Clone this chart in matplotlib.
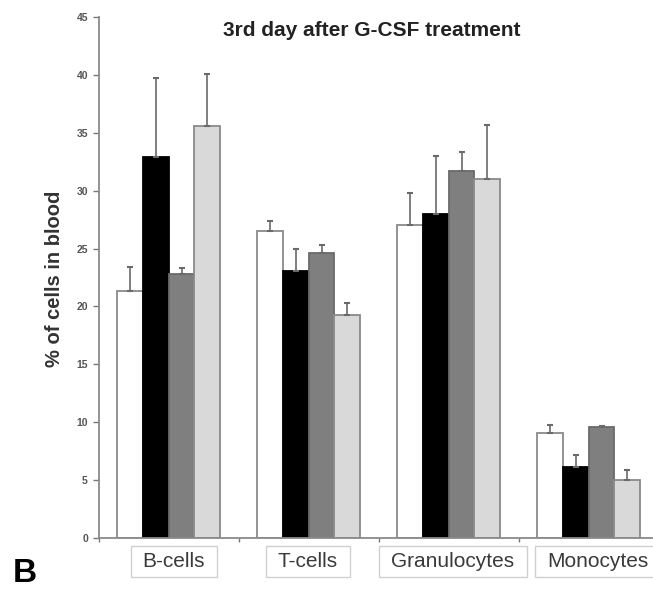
import matplotlib
matplotlib.use("Agg")
import matplotlib.pyplot as plt
import matplotlib.transforms as mtransforms
from matplotlib.patches import Rectangle
import numpy as np

plt.rcParams['font.family'] = ['Liberation Sans', 'DejaVu Sans']

categories = ["B-cells", "T-cells", "Granulocytes", "Monocytes"]
white_vals = [21.3, 26.5, 27.0, 9.05]
white_err = [2.1, 0.9, 2.8, 0.7]
black_vals = [32.9, 23.1, 27.95, 6.1]
black_err = [6.8, 1.85, 5.05, 1.05]
dgray_vals = [22.8, 24.6, 31.7, 9.56]
dgray_err = [0.5, 0.7, 1.6, 0.15]
lgray_vals = [35.6, 19.3, 31.05, 4.98]
lgray_err = [4.5, 1.0, 4.65, 0.9]
yticks = [0, 5, 10, 15, 20, 25, 30, 35, 40, 45]

series = [
    (white_vals, white_err, "#ffffff", "#8a8a8a"),
    (black_vals, black_err, "#000000", "#000000"),
    (dgray_vals, dgray_err, "#7f7f7f", "#6a6a6a"),
    (lgray_vals, lgray_err, "#d9d9d9", "#8a8a8a"),
]

W, H = 653, 590
fig = plt.figure(figsize=(W / 100, H / 100), dpi=100)
ax = fig.add_axes([99 / W, 52 / H, 560 / W, 521 / H])

x = np.arange(len(categories))
bw = 0.184
start = 0.13
for j, (vals, errs, fc, ec) in enumerate(series):
    pos = x + start + bw * (j + 0.5)
    ax.bar(pos, vals, width=bw, color=fc, edgecolor=ec, linewidth=1.3, zorder=2)
    ax.errorbar(pos, vals, yerr=[np.zeros(len(vals)), errs], fmt='none',
                ecolor="#6a6a6a", elinewidth=1.2, capsize=2.5, capthick=1.5, zorder=3)

ax.set_xlim(0, 4)
ax.set_ylim(0, 45)
ax.set_yticks(yticks)
ax.set_yticklabels([str(t) for t in yticks], fontsize=7.5, color="#555555", fontweight='bold')
ax.set_xticks(np.arange(0, 5))
ax.set_xticklabels([])
ax.tick_params(axis='y', length=4, width=1.0, color="#777777", pad=4)
ax.tick_params(axis='x', length=3, width=1.0, color="#777777")
for s in ['top', 'right']:
    ax.spines[s].set_visible(False)
for s in ['left', 'bottom']:
    ax.spines[s].set_color("#8a8a8a")
    ax.spines[s].set_linewidth(1.3)

ax.set_ylabel("% of cells in blood", fontsize=14.5, fontweight='bold', color="#333333")
ax.yaxis.set_label_coords(-(99 - 64) / 560, (538 - 279) / 521)

fig.text(372 / W, 1 - 31 / H, "3rd day after G-CSF treatment", ha='center', va='center',
         fontsize=15, fontweight='bold', color="#222222")
fig.text(13 / W, 1 - 574 / H, "B", ha='left', va='center', fontsize=24, fontweight='bold', color="#000000")

# boxed category labels
label_offsets = [0.034, -0.007, 0.029, 0.061]
trans = mtransforms.blended_transform_factory(ax.transData, ax.transAxes)
texts = []
for i, cat in enumerate(categories):
    t = ax.text(i + 0.5 + label_offsets[i], -0.045, cat, transform=trans, ha='center', va='center',
                fontsize=15, color="#3a3a3a", clip_on=False, zorder=6)
    texts.append(t)
fig.canvas.draw()
r = fig.canvas.get_renderer()
inv = fig.transFigure.inverted()
for t in texts:
    bb = t.get_window_extent(renderer=r)
    x0, y0 = bb.x0 - 12, bb.y0 - 6
    x1, y1 = bb.x1 + 12, bb.y1 + 6
    (fx0, fy0) = inv.transform((x0, y0))
    (fx1, fy1) = inv.transform((x1, y1))
    rect = Rectangle((fx0, fy0), fx1 - fx0, fy1 - fy0, transform=fig.transFigure,
                     facecolor='white', edgecolor="#d0d0d0", linewidth=1.0, zorder=5, clip_on=False)
    ax.add_patch(rect)

fig.savefig("out.png", dpi=100)
